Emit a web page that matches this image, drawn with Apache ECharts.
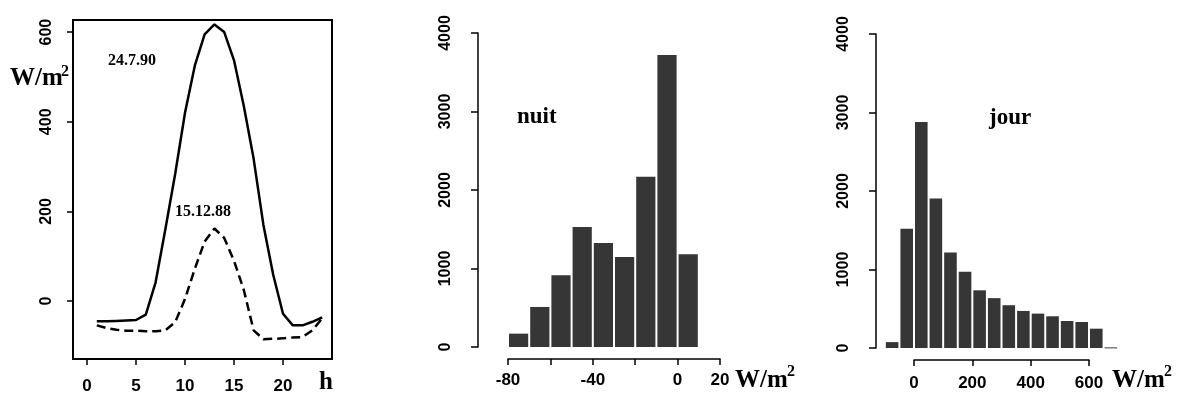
<!DOCTYPE html>
<html>
<head>
<meta charset="utf-8">
<script src="https://cdn.jsdelivr.net/npm/echarts@6/dist/echarts.min.js"></script>
<style>
  html, body { margin: 0; padding: 0; background: #fff; }
  #chart { width: 1184px; height: 399px; }
</style>
</head>
<body>
<div id="chart"></div>
<script>
// ---- Data ----
var hours = [1,2,3,4,5,6,7,8,9,10,11,12,13,14,15,16,17,18,19,20,21,22,23,24];
var july90 = [-45,-45,-44,-43,-42,-30,42,161,284,420,525,595,617,600,537,435,318,170,59,-28,-54,-54,-46,-36];
var dec88 = [-54,-60,-64,-66,-66,-67,-67,-65,-47,5,72,133,162,141,90,25,-65,-85,-84,-83,-81,-80,-65,-38];

var nuitEdges = [-80,-70,-60,-50,-40,-30,-20,-10,0];
var nuitWidth = 10;
var nuitCounts = [170,510,915,1530,1325,1145,2170,3720,1180];

var jourEdges = [-100,-50,0,50,100,150,200,250,300,350,400,450,500,550,600,650];
var jourWidth = 50;
var jourCounts = [75,1520,2880,1905,1215,970,735,635,545,472,438,404,344,331,246,8];

var hourTicks = [0,5,10,15,20];
var fluxTicks = [0,200,400,600];
var nuitTicks = [-80,-60,-40,-20,0,20];
var nuitLabels = [-80,-40,0,20];
var jourTicks = [0,200,400,600];
var countTicks = [0,1000,2000,3000,4000];

// ---- Build ----
function pairs(xs, ys){ return xs.map(function(x,i){ return [x, ys[i]]; }); }
function bins(edges, w, counts){ return edges.map(function(e,i){ return [e, e + w, counts[i]]; }); }
function plain(v){ return String(v); }

var BLACK = '#000';
var serif = 'Liberation Serif';
var barColor = '#363636';

function lbl(values, size, margin, rotate){
  return { customValues: values, fontSize: size, margin: margin, rotate: rotate || 0,
           fontFamily: 'Liberation Sans', fontWeight: 'bold', color: BLACK, formatter: plain };
}
function tck(values, len){
  return { show: true, customValues: values, length: len, lineStyle: { color: BLACK, width: 1.5 } };
}
function line(show){
  return { show: show, onZero: false, lineStyle: { color: BLACK, width: 1.5 } };
}

function histRender(params, api){
  var p0 = api.coord([api.value(0), 0]);
  var p1 = api.coord([api.value(1), api.value(2)]);
  return {
    type: 'rect',
    shape: { x: p0[0] + 1, y: p1[1], width: Math.max(p1[0] - p0[0] - 2, 1), height: Math.max(p0[1] - p1[1], 1) },
    style: { fill: barColor }
  };
}

var chart = echarts.init(document.getElementById('chart'));
var option = {
  animation: false,
  backgroundColor: '#fff',
  grid: [
    { left: 73, top: 20, width: 259, height: 339, show: true, borderColor: BLACK, borderWidth: 2, backgroundColor: 'transparent' },
    { left: 508, top: 33, width: 212, height: 314 },
    { left: 914, top: 34, width: 175, height: 314 }
  ],
  xAxis: [
    { gridIndex: 0, type: 'value', position: 'bottom', min: -1.43, max: 25,
      axisLine: line(false), splitLine: { show: false },
      axisTick: tck(hourTicks, 6), axisLabel: lbl(hourTicks, 17, 19) },
    { gridIndex: 1, type: 'value', position: 'bottom', min: -80, max: 20, offset: 12,
      axisLine: line(true), splitLine: { show: false },
      axisTick: tck(nuitTicks, 6), axisLabel: lbl(nuitLabels, 17, 13) },
    { gridIndex: 2, type: 'value', position: 'bottom', min: 0, max: 600, offset: 12,
      axisLine: line(true), splitLine: { show: false },
      axisTick: tck(jourTicks, 6), axisLabel: lbl(jourTicks, 17, 15) }
  ],
  yAxis: [
    { gridIndex: 0, type: 'value', position: 'left', min: -129, max: 627,
      axisLine: line(false), splitLine: { show: false },
      axisTick: tck(fluxTicks, 6), axisLabel: lbl(fluxTicks, 16, 18, 90) },
    { gridIndex: 1, type: 'value', position: 'left', min: 0, max: 4000, offset: 30,
      axisLine: line(true), splitLine: { show: false },
      axisTick: tck(countTicks, 7), axisLabel: lbl(countTicks, 16, 24, 90) },
    { gridIndex: 2, type: 'value', position: 'left', min: 0, max: 4000, offset: 38,
      axisLine: line(true), splitLine: { show: false },
      axisTick: tck(countTicks, 7), axisLabel: lbl(countTicks, 16, 24, 90) }
  ],
  series: [
    { type: 'line', xAxisIndex: 0, yAxisIndex: 0, data: pairs(hours, july90), symbol: 'none',
      lineStyle: { color: BLACK, width: 2.5 } },
    { type: 'line', xAxisIndex: 0, yAxisIndex: 0, data: pairs(hours, dec88), symbol: 'none',
      lineStyle: { color: BLACK, width: 2.5, type: [9, 5] } },
    { type: 'custom', xAxisIndex: 1, yAxisIndex: 1, data: bins(nuitEdges, nuitWidth, nuitCounts),
      encode: { x: [0, 1], y: 2 }, renderItem: histRender, clip: false },
    { type: 'custom', xAxisIndex: 2, yAxisIndex: 2, data: bins(jourEdges, jourWidth, jourCounts),
      encode: { x: [0, 1], y: 2 }, renderItem: histRender, clip: false }
  ],
  graphic: [
    { type: 'text', left: 10, top: 66, style: { text: 'W/m', font: 'bold 25px ' + serif, fill: BLACK } },
    { type: 'text', left: 61, top: 64, style: { text: '2', font: 'bold 16px ' + serif, fill: BLACK } },
    { type: 'text', x: 132, y: 61, style: { text: '24.7.90', font: 'bold 16px ' + serif, fill: BLACK, align: 'center', verticalAlign: 'middle' } },
    { type: 'text', x: 203, y: 212, style: { text: '15.12.88', font: 'bold 16px ' + serif, fill: BLACK, align: 'center', verticalAlign: 'middle' } },
    { type: 'text', x: 326, y: 383, style: { text: 'h', font: 'bold 25px ' + serif, fill: BLACK, align: 'center', verticalAlign: 'middle' } },
    { type: 'text', x: 517, y: 117, style: { text: 'nuit', font: 'bold 23px ' + serif, fill: BLACK, verticalAlign: 'middle' } },
    { type: 'text', x: 989, y: 118, style: { text: 'jour', font: 'bold 23px ' + serif, fill: BLACK, verticalAlign: 'middle' } },
    { type: 'text', x: 735, y: 381, style: { text: 'W/m', font: 'bold 25px ' + serif, fill: BLACK, verticalAlign: 'middle' } },
    { type: 'text', x: 787, y: 372, style: { text: '2', font: 'bold 16px ' + serif, fill: BLACK, verticalAlign: 'middle' } },
    { type: 'text', x: 1112, y: 381, style: { text: 'W/m', font: 'bold 25px ' + serif, fill: BLACK, verticalAlign: 'middle' } },
    { type: 'text', x: 1164, y: 372, style: { text: '2', font: 'bold 16px ' + serif, fill: BLACK, verticalAlign: 'middle' } }
  ]
};
chart.setOption(option);
</script>
</body>
</html>
